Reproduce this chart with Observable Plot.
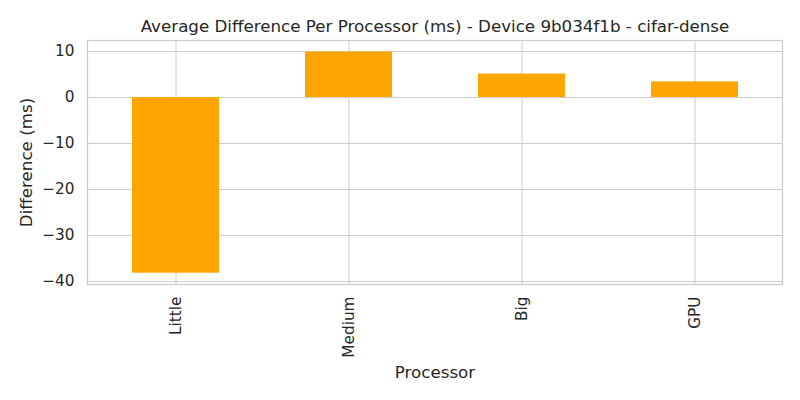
<!DOCTYPE html>
<html>
<head>
<meta charset="utf-8">
<script src="https://cdn.jsdelivr.net/npm/d3@7"></script>
<script src="https://cdn.jsdelivr.net/npm/@observablehq/plot@0.6"></script>
<style>
  html, body { margin: 0; padding: 0; background: #fff; }
</style>
</head>
<body>
<div id="chart"></div>
<script>
const processors = ["Little", "Medium", "Big", "GPU"];
const differences = [-38.2, 9.9, 5.1, 3.4];
const yTicks = [-40, -30, -20, -10, 0, 10];
const title = "Average Difference Per Processor (ms) - Device 9b034f1b - cifar-dense";
const xLabel = "Processor";
const yLabel = "Difference (ms)";

const data = processors.map((p, i) => ({processor: p, value: differences[i]}));
const textColor = "#262626";
const gridColor = "#cccccc";

const chart = Plot.plot({
  width: 800,
  height: 400,
  marginLeft: 87,
  marginRight: 18,
  marginTop: 40,
  marginBottom: 116,
  style: {fontFamily: "DejaVu Sans", fontSize: "15.3px", color: textColor, background: "#fff"},
  x: {type: "band", domain: processors, paddingInner: 0.5, paddingOuter: 0.25, align: 0.5},
  y: {domain: [-40.65, 12.4], nice: false},
  marks: [
    Plot.gridX(processors, {stroke: gridColor, strokeOpacity: 1, strokeWidth: 1}),
    Plot.gridY(yTicks, {stroke: gridColor, strokeOpacity: 1, strokeWidth: 1}),
    Plot.barY(data, {x: "processor", y: "value", fill: "#FFA500"}),
    Plot.frame({stroke: gridColor, strokeWidth: 1.25}),
    Plot.axisY(yTicks, {tickSize: 0, tickPadding: 13, label: null, fill: textColor, tickFormat: d => d3.format("")(d)}),
    Plot.axisX({tickSize: 0, tickPadding: 12, tickRotate: -90, label: null, fill: textColor}),
    Plot.text([yLabel], {frameAnchor: "left", dx: -61, rotate: -90, textAnchor: "middle", lineAnchor: "middle", fontSize: 16.7, fill: textColor}),
    Plot.text([xLabel], {frameAnchor: "bottom", dy: 88, lineAnchor: "middle", fontSize: 16.7, fill: textColor}),
    Plot.text([title], {frameAnchor: "top", dy: -14, lineAnchor: "middle", fontSize: 16.7, fill: textColor})
  ]
});
document.getElementById("chart").appendChild(chart);
</script>
</body>
</html>
